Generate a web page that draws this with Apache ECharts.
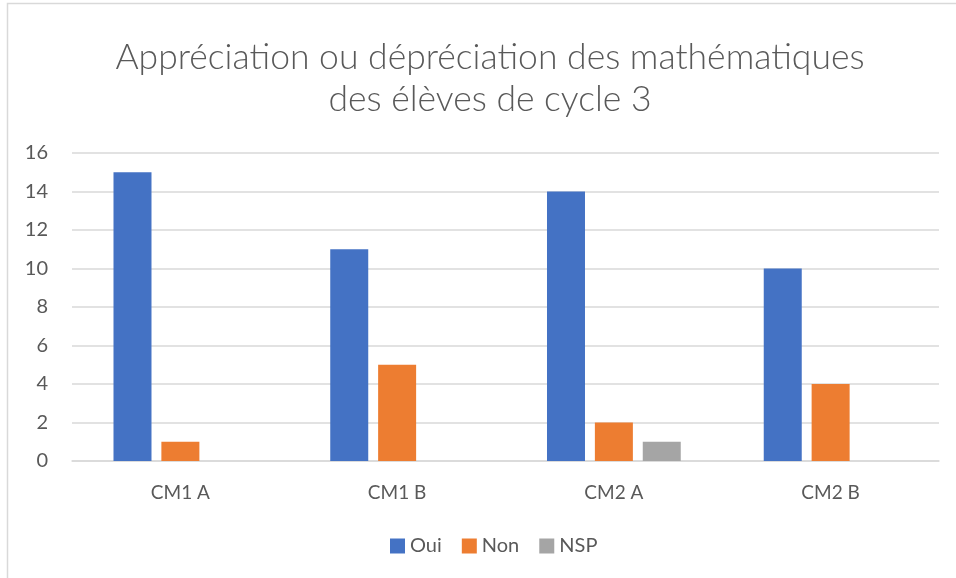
<!DOCTYPE html>
<html><head><meta charset="utf-8">
<script src="https://cdn.jsdelivr.net/npm/echarts@6/dist/echarts.min.js"></script>
<style>html,body{margin:0;padding:0;background:#fff}#c{width:956px;height:578px}</style>
</head><body><div id="c"></div>
<script>
const categories = ['CM1 A', 'CM1 B', 'CM2 A', 'CM2 B'];
const oui = [15, 11, 14, 10];
const non = [1, 5, 2, 4];
const nsp = [0, 0, 1, 0];
const seriesNames = ['Oui', 'Non', 'NSP'];
const colors = ['#4472C4', '#ED7D31', '#A5A5A5'];
const titleText = 'Appréciation ou dépréciation des mathématiques\ndes élèves de cycle 3';

const font = 'Lato, "Open Sans", sans-serif';
const chart = echarts.init(document.getElementById('c'));
chart.setOption({
  animation: false,
  color: colors,
  graphic: [{ type: 'rect', shape: { x: 7.5, y: 3.5, width: 1000, height: 700 }, style: { fill: 'none', stroke: '#D9D9D9', lineWidth: 1.5 }, silent: true }],
  title: {
    text: titleText, left: 485, top: 32, textAlign: 'center',
    textStyle: { fontFamily: font, fontWeight: 300, fontSize: 35.5, color: '#595959', lineHeight: 42 }
  },
  legend: {
    data: seriesNames, bottom: 17, left: 385, icon: 'rect', itemWidth: 15, itemHeight: 15, itemGap: 20,
    textStyle: { fontFamily: font, fontSize: 20, color: '#595959' }
  },
  grid: { left: 72, right: 17, top: 153, bottom: 117 },
  xAxis: {
    type: 'category', data: categories,
    axisLine: { lineStyle: { color: '#D9D9D9', width: 1.5 } }, axisTick: { show: false },
    axisLabel: { fontFamily: font, fontSize: 19, color: '#595959', margin: 22 }
  },
  yAxis: {
    type: 'value', min: 0, max: 16, interval: 2,
    axisLine: { show: false }, axisTick: { show: false },
    splitLine: { lineStyle: { color: '#D9D9D9', width: 1.5 } },
    axisLabel: { fontFamily: font, fontSize: 20, color: '#595959', margin: 24 }
  },
  series: [
    { name: seriesNames[0], type: 'bar', data: oui, barWidth: 38, barGap: '26%' },
    { name: seriesNames[1], type: 'bar', data: non, barWidth: 38, barGap: '26%' },
    { name: seriesNames[2], type: 'bar', data: nsp, barWidth: 38, barGap: '26%' }
  ]
});
</script></body></html>
